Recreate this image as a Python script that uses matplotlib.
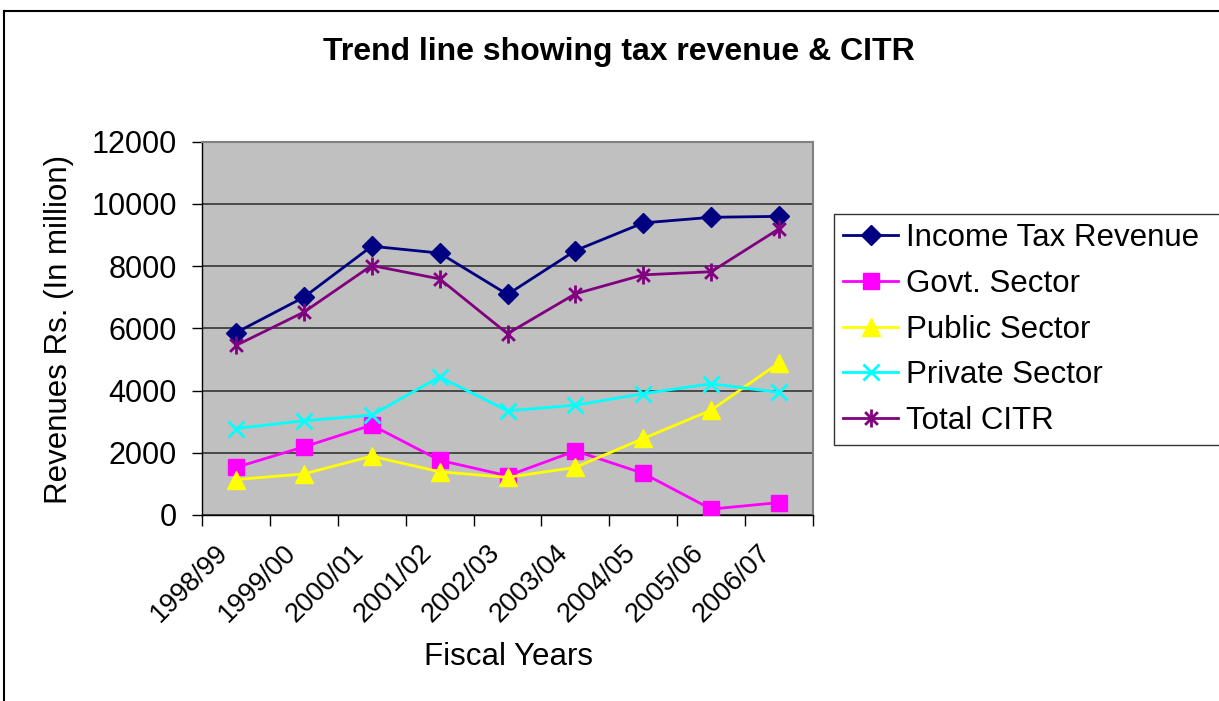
import matplotlib
matplotlib.use("Agg")
import matplotlib.pyplot as plt
import matplotlib.transforms as mtransforms
from matplotlib.path import Path
from matplotlib.lines import Line2D
import numpy as np

plt.rcParams['font.family'] = ['Liberation Sans', 'DejaVu Sans']

years = ["1998/99", "1999/00", "2000/01", "2001/02", "2002/03",
         "2003/04", "2004/05", "2005/06", "2006/07"]
income_tax = [5860, 7000, 8640, 8420, 7090, 8500, 9390, 9570, 9600]
govt_sector = [1530, 2190, 2890, 1760, 1260, 2060, 1340, 190, 400]
public_sector = [1140, 1320, 1890, 1390, 1210, 1530, 2460, 3370, 4890]
private_sector = [2780, 3030, 3210, 4440, 3350, 3530, 3900, 4220, 3940]
total_citr = [5450, 6520, 8020, 7590, 5830, 7110, 7720, 7820, 9200]

# asterisk marker: an X crossed by a vertical stroke
d = 0.7071
asterisk = Path(
    [(-d, -d), (d, d), (-d, d), (d, -d), (0, -1), (0, 1)],
    [Path.MOVETO, Path.LINETO, Path.MOVETO, Path.LINETO, Path.MOVETO, Path.LINETO],
)

fig = plt.figure(figsize=(12.19, 7.01), dpi=100)
W, H = 1219, 701
ax = fig.add_axes([202 / W, 1 - 515 / H, (813 - 202) / W, (515 - 141.7) / H])
ax.set_facecolor('#C0C0C0')

x = np.arange(len(years))
lw = 2.0
ax.plot(x, income_tax, color='#000080', lw=lw, marker='D', ms=10,
        label='Income Tax Revenue', zorder=5)
ax.plot(x, govt_sector, color='#FF00FF', lw=lw, marker='s', ms=11,
        label='Govt. Sector', zorder=5)
ax.plot(x, public_sector, color='#FFFF00', lw=lw, marker='^', ms=13,
        label='Public Sector', zorder=5)
ax.plot(x, private_sector, color='#00FFFF', lw=lw, marker='x', ms=12,
        mew=2.0, label='Private Sector', zorder=5)
ax.plot(x, total_citr, color='#800080', lw=lw, marker=asterisk, ms=13,
        mew=2.0, label='Total CITR', zorder=5)

ax.set_xlim(-0.5, len(years) - 0.5)
ax.set_ylim(0, 12000)
ax.set_yticks(np.arange(0, 12001, 2000))
ax.yaxis.grid(True, color='#404040', lw=1.3)
ax.set_axisbelow(True)

# category labels at centres, tick marks on boundaries
ax.set_xticks(x)
ax.set_xticklabels(years, rotation=45, ha='right', va='top',
                   rotation_mode='anchor', fontsize=19.5)
ax.tick_params(axis='x', which='major', length=0, pad=14)
shift = mtransforms.ScaledTranslation(-0.21, -0.05, fig.dpi_scale_trans)
for lbl in ax.get_xticklabels():
    lbl.set_transform(lbl.get_transform() + shift)
ax.set_xticks(np.arange(-0.5, len(years)), minor=True)
ax.tick_params(axis='x', which='minor', length=8, width=1, direction='out')
ax.tick_params(axis='y', length=7.2, width=1, direction='out', labelsize=22,
               pad=11)

for side in ('top', 'right'):
    ax.spines[side].set_color('#808080')
    ax.spines[side].set_linewidth(1.5)
for side in ('left', 'bottom'):
    ax.spines[side].set_color('black')
    ax.spines[side].set_linewidth(1)

fig.text(619 / W, 1 - 52 / H, 'Trend line showing tax revenue & CITR',
         ha='center', va='center', fontsize=23, fontweight='bold')
fig.text(59 / W, 1 - 329 / H, 'Revenues Rs. (In million)', rotation=90,
         ha='center', va='center', fontsize=22.5)
fig.text(508 / W, 1 - 657 / H, 'Fiscal Years', ha='center', va='center',
         fontsize=22.5)

# legend box runs on past the right edge of the figure
leg = ax.legend(loc='upper left',
                bbox_to_anchor=(834 / W, 1 - 214 / H, 400 / W, 0),
                bbox_transform=fig.transFigure, mode='expand',
                fontsize=22.5, frameon=True,
                fancybox=False, edgecolor='black', borderaxespad=0,
                handlelength=1.75, handletextpad=0.25, labelspacing=0.5,
                borderpad=0.3)
leg.get_frame().set_linewidth(1)

# outer chart border
fig.add_artist(Line2D([4 / W, 4 / W], [0, 1 - 11 / H], transform=fig.transFigure,
                      color='black', lw=1.5))
fig.add_artist(Line2D([4 / W, 1], [1 - 11 / H, 1 - 11 / H], transform=fig.transFigure,
                      color='black', lw=1.5))

fig.savefig('out.png', dpi=100)
